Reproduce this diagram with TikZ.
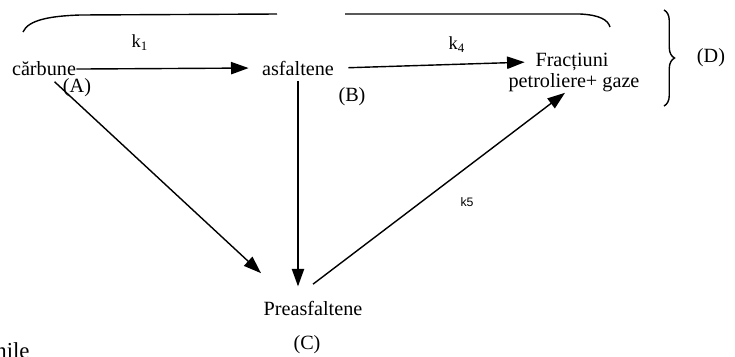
\documentclass[tikz,border=0pt]{standalone}
\usepackage{fontspec}
\setmainfont{Liberation Serif}
\newfontfamily\ratesans{Liberation Sans}
\usetikzlibrary{arrows.meta,positioning,decorations.pathreplacing}

\begin{document}
\begin{tikzpicture}[x=0.02cm, y=-0.02cm,
    species/.style={font=\fontsize{11.5}{13}\selectfont, inner sep=3pt},
    tag/.style={font=\fontsize{11.5}{13}\selectfont, inner sep=1pt},
    rate/.style={font=\fontsize{10.5}{12}\selectfont, inner sep=1pt},
    react/.style={-{Triangle[length=10pt,width=7pt]}, line width=0.8pt}
  ]
  \useasboundingbox (0,0) rectangle (735,356);

  % species
  \node[species] (carb) at (44,69) {cărbune};
  \node[species] (asf) at (298,68) {asfaltene};
  \node[species] (fr) at (572,62) {Fracțiuni};
  \node[species] (pg) at (574,83) {petroliere+ gaze};
  \node[species] (pre) at (313,308) {Preasfaltene};

  % letters
  \node[tag] (tA) at (77,88) {(A)};
  \node[tag] (tB) at (352,97) {(B)};
  \node[tag] (tC) at (307,345) {(C)};
  \node[tag] (tD) at (711,58) {(D)};

  % rate constants
  \node[rate] (k1) at (140,43) {k\textsubscript{1}};
  \node[rate] (k4) at (457,45) {k\textsubscript{4}};
  \node[font=\fontsize{7}{8}\ratesans, inner sep=1pt] (k5) at (467,202) {k5};

  % reactions
  \draw[react, shorten <=-3pt, shorten >=4.5pt] (carb.east) -- (asf.west);
  \draw[react, shorten <=5pt, shorten >=3pt] (asf.east) -- (fr.west);
  \draw[react, shorten >=5pt] (asf.south) -- (asf.south |- pre.north);
  \draw[react] ([xshift=6pt]carb.south) -- ([shift={(3,-22)}]pre.north west);
  \draw[react] ([shift={(0,-11)}]pre.north) -- ([shift={(-9,-5)}]pg.south);

  % group (D)
  \draw[decorate, decoration={brace, amplitude=6pt}, line width=0.8pt]
    (664,10) -- (664,106);
  \draw[line width=0.8pt] (23,32) .. controls (28,20) and (50,16) .. (80,15) -- (277,14);
  \draw[line width=0.8pt] (345,14) -- (580,14) .. controls (600,15) and (608,20) .. (610,27);

  \node[anchor=base west, font=\fontsize{13}{15}\selectfont, inner sep=0pt] (cut) at (-5,358) {nile};
\end{tikzpicture}
\end{document}
